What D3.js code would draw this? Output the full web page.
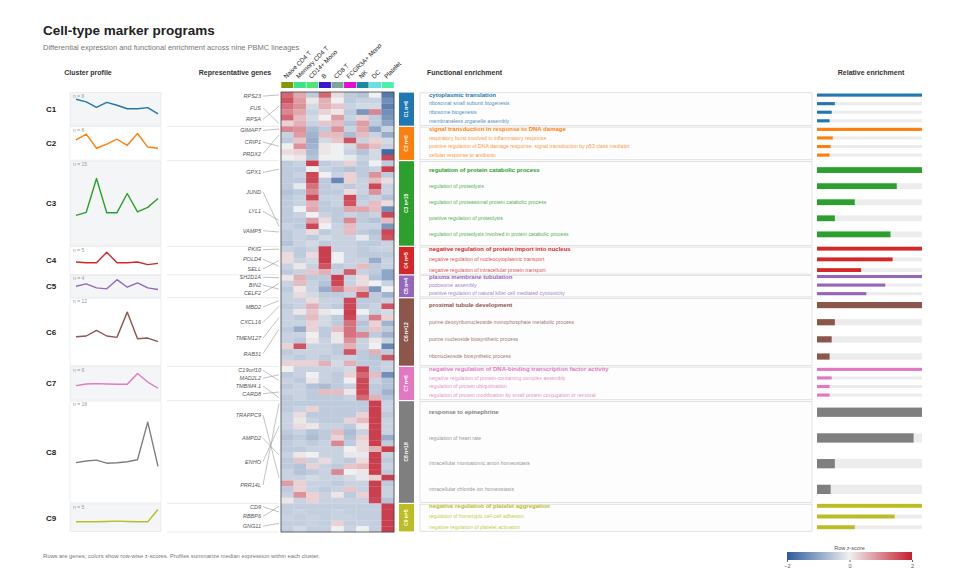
<!DOCTYPE html>
<html>
<head>
<meta charset="utf-8">
<script src="https://cdn.jsdelivr.net/npm/d3@7"></script>
<style>
  body { margin: 0; background: #fff; }
  text { font-family: "Liberation Sans", Arial, sans-serif; }
</style>
</head>
<body>
<div id="chart"></div>
<script>
// ---- data ----
const cellTypes = ["Naive CD4 T", "Memory CD4 T", "CD14+ Mono", "B", "CD8 T", "FCGR3A+ Mono", "NK", "DC", "Platelet"];
const cellColors = ["#7f9a00", "#3ee08a", "#55e07a", "#3a1ad0", "#7aa898", "#e010d0", "#1a88a0", "#66e0e0", "#4ef0a8"];

const clusterNames = ["C1", "C2", "C3", "C4", "C5", "C6", "C7", "C8", "C9"];
const clusterSizes = [6, 6, 15, 5, 4, 12, 6, 18, 5];
const clusterColors = ["#1f77b4", "#ff7f0e", "#2ca02c", "#d62728", "#9467bd", "#8c564b", "#e377c2", "#7f7f7f", "#bcbd22"];

// median profile per cluster (one value per cell type)
const profiles = [
  [0.9, 0.7, 0.29, 0.66, 0.45, 0.19, 0.19, 0.27, -0.2],
  [0.29, 0.68, -0.28, 0.0, 0.33, -0.08, 0.72, -0.2, -0.28],
  [-0.3, -0.13, 1.72, -0.15, -0.15, 0.9, -0.11, 0.14, 0.63],
  [0.01, -0.08, -0.08, 1.2, -0.08, -0.08, 0.01, -0.3, -0.16],
  [0.1, 0.38, -0.1, -0.22, 0.9, -0.02, 0.5, -0.1, -0.3],
  [0.03, 0.08, 0.46, 0.08, -0.01, 1.7, -0.11, -0.06, -0.3],
  [-0.03, 0.13, 0.17, 0.13, 0.1, 0.1, 1.2, 0.33, -0.3],
  [-0.11, -0.03, 0.01, -0.14, -0.12, -0.07, 0.03, 1.9, -0.3],
  [-0.1, -0.1, -0.1, -0.08, -0.05, -0.08, -0.1, -0.1, 1.0]
];

// representative genes and the row (within the cluster) each one points to
const markerGenes = [
  ["RPS23", "FUS", "RPSA"],
  ["GIMAP7", "CRIP1", "PRDX2"],
  ["GPX1", "JUND", "LYL1", "VAMP5"],
  ["PKIG", "POLD4", "SELL"],
  ["SH2D1A", "BIN2", "CELF2"],
  ["MBD2", "CXCL16", "TMEM127", "RAB31"],
  ["C19orf10", "MAD2L2", "TMBIM4.1", "CARD8"],
  ["TRAPPC9", "AMPD2", "ENHO", "PRR14L"],
  ["CD9", "RBBP6", "GNG11"]
];
const markerRows = [
  [0, 5, 2], [0, 3, 1], [1, 11, 10, 12], [0, 3, 2], [0, 2, 1],
  [0, 1, 3, 5], [2, 1, 5, 4], [13, 9, 4, 0], [1, 0, 3]
];

const enrichTerms = [
  ["cytoplasmic translation", "ribosomal small subunit biogenesis", "ribosome biogenesis", "membraneless organelle assembly"],
  ["signal transduction in response to DNA damage", "respiratory burst involved in inflammatory response", "positive regulation of DNA damage response, signal transduction by p53 class mediator", "cellular response to antibiotic"],
  ["regulation of protein catabolic process", "regulation of proteolysis", "regulation of proteasomal protein catabolic process", "positive regulation of proteolysis", "regulation of proteolysis involved in protein catabolic process"],
  ["negative regulation of protein import into nucleus", "negative regulation of nucleocytoplasmic transport", "negative regulation of intracellular protein transport"],
  ["plasma membrane tubulation", "podosome assembly", "positive regulation of natural killer cell mediated cytotoxicity"],
  ["proximal tubule development", "purine deoxyribonucleoside monophosphate metabolic process", "purine nucleoside biosynthetic process", "ribonucleoside biosynthetic process"],
  ["negative regulation of DNA-binding transcription factor activity", "negative regulation of protein-containing complex assembly", "regulation of protein ubiquitination", "regulation of protein modification by small protein conjugation or removal"],
  ["response to epinephrine", "regulation of heart rate", "intracellular monoatomic anion homeostasis", "intracellular chloride ion homeostasis"],
  ["negative regulation of platelet aggregation", "regulation of homotypic cell-cell adhesion", "negative regulation of platelet activation"]
];
const enrichScores = [
  [1, 0.17, 0.14, 0.12],
  [1, 0.15, 0.13, 0.12],
  [1, 0.76, 0.36, 0.17, 0.7],
  [1, 0.72, 0.42],
  [1, 0.65, 0.47],
  [1, 0.17, 0.14, 0.12],
  [1, 0.14, 0.12, 0.12],
  [1, 0.92, 0.17, 0.13],
  [1, 0.74, 0.36]
];

// row-wise z-scores, 77 genes x 9 cell types
const zscores = [
  [1.3, 0.7, -0.5, 1.3, 0.2, -0.5, -0.6, 0.0, -1.6],
  [1.5, 0.8, 0.1, 0.6, 0.0, -0.5, -0.4, -0.4, -1.3],
  [1.2, 0.9, -0.3, 0.6, 0.4, -0.4, -0.3, -0.3, -1.5],
  [1.0, 0.7, -0.4, 0.3, 0.1, -0.5, -1.2, 1.0, -1.3],
  [1.3, 0.5, -0.3, 0.0, 0.8, -0.4, 0.3, -0.5, -1.2],
  [0.3, 0.6, -0.4, 0.4, 0.5, -0.6, 0.8, -0.5, -1.0],
  [1.0, 0.9, -0.7, -0.5, 0.9, -0.4, 0.7, -1.0, -0.4],
  [-0.4, 0.8, -0.8, 0.5, 0.5, -0.7, 0.5, -0.4, -0.9],
  [-0.5, 0.4, -0.9, -0.3, 0.4, 1.5, -0.4, 0.3, -0.3],
  [0.0, 0.9, -0.8, 0.1, 0.0, -0.3, 0.8, 0.5, -0.4],
  [0.2, 0.3, -0.7, 0.1, 0.0, -0.4, -0.6, -0.3, -1.8],
  [0.0, 0.1, -0.6, 0.0, 0.0, -0.1, -0.4, -0.3, 1.6],
  [-0.5, -0.4, 1.7, -0.5, -0.4, 0.3, -0.5, 0.0, -0.5],
  [-0.5, -0.5, 0.0, -0.4, -0.5, -0.6, -0.5, -0.4, 1.7],
  [-0.5, -0.4, 1.6, 0.0, -0.4, 0.3, -0.5, 0.9, -0.5],
  [-0.5, -0.5, 1.6, -0.5, -1.4, 0.3, -0.4, 0.5, 0.2],
  [-0.5, -0.1, 1.2, -0.5, -0.4, -0.5, -0.4, 1.6, -0.4],
  [-0.6, -0.5, 1.0, -0.5, -0.5, 0.2, -0.4, 0.9, -0.4],
  [-0.5, -0.4, 1.6, -0.4, -0.4, 1.6, -0.5, -0.4, -0.6],
  [-0.5, -0.4, 0.6, -0.5, -0.4, 1.5, -0.4, 0.5, 0.2],
  [-0.5, 0.0, 0.7, -0.5, -0.5, 0.7, 0.7, 0.5, -1.3],
  [-0.5, -0.4, 0.0, -0.4, -0.5, -0.4, -0.5, -0.4, 1.6],
  [-0.5, -0.5, 0.8, 0.2, -0.5, 1.0, -0.5, -0.6, 0.5],
  [-0.4, -0.5, 1.6, 0.0, -0.4, 0.5, -0.4, -0.4, -1.2],
  [-0.5, -0.4, 0.2, -0.5, -0.4, 0.5, -0.5, -0.6, 1.6],
  [-0.5, -0.4, -0.5, -0.3, -0.4, -0.4, -0.1, -0.5, 1.5],
  [-0.6, -0.4, -0.3, -0.5, -0.4, -0.4, -0.5, -0.5, -0.4],
  [-0.4, -0.5, -0.4, 1.7, -0.4, -0.4, -0.5, -0.4, -0.4],
  [0.2, -0.5, 0.2, 1.7, 0.0, -0.4, -0.5, -0.5, -0.5],
  [0.2, -0.4, -0.3, 1.7, 0.0, -0.4, -0.4, -0.9, -0.4],
  [-0.4, 0.1, -0.4, 1.5, -0.5, -0.4, 0.5, -0.5, -0.4],
  [-0.5, -0.4, 0.4, 0.6, -0.4, 1.4, -0.4, -0.5, -1.0],
  [0.1, 0.6, -0.5, -0.5, 1.7, -0.4, 0.2, -0.6, -1.0],
  [-0.4, 0.5, -0.4, -0.6, 1.6, -0.4, 0.2, 0.0, -0.4],
  [-0.5, 0.1, -0.4, -0.9, 1.1, 0.5, 0.6, -1.2, 0.0],
  [-0.4, 0.2, -0.3, -0.5, -0.5, -0.4, 1.5, -0.5, -0.8],
  [-0.4, -0.4, 0.2, -0.4, -0.4, 1.6, -0.5, -0.5, -0.4],
  [-0.5, -0.4, 0.6, -0.4, -0.5, 1.6, -0.5, -0.4, 1.5],
  [-0.4, 0.1, 0.4, 0.1, 0.0, 1.7, 0.0, -0.4, -0.3],
  [-0.4, -0.5, 0.5, -0.3, -0.5, 1.6, -0.4, 1.1, 0.3],
  [-0.4, -0.4, 0.3, -0.3, -0.5, 1.2, -0.6, 0.3, -0.8],
  [-0.5, -0.9, 0.3, -0.5, 0.5, 1.2, -0.5, 0.4, -0.5],
  [-0.4, -0.4, 0.0, -0.5, 0.1, 1.2, 1.0, -0.5, -0.8],
  [-0.4, -0.5, 0.1, -0.4, 0.1, 0.9, -0.4, 0.1, -0.4],
  [0.3, 1.5, -0.4, -0.4, -0.5, 0.6, -0.4, 0.0, -1.4],
  [-0.5, -0.4, -0.4, -0.4, -0.5, 1.5, -0.5, 0.6, -0.5],
  [-0.4, -0.5, -0.4, -0.5, -0.4, -0.4, -0.5, -0.6, 1.5],
  [0.3, 0.3, 0.3, 0.6, -0.3, 0.6, -0.5, -0.5, -0.4],
  [0.0, -0.4, -0.4, -0.4, -0.4, -0.3, 1.6, -0.5, -0.4],
  [-0.5, -0.4, 0.0, -0.4, -0.5, 0.3, 1.3, 0.5, -1.3],
  [-0.4, -0.5, 0.1, -0.4, -0.5, 0.0, 1.6, -0.4, -0.6],
  [-0.5, -0.4, -0.6, -0.7, -0.5, -0.4, 1.6, -0.5, -0.6],
  [-0.4, -0.4, -0.5, 0.5, 0.5, 0.1, 1.6, -0.5, -0.8],
  [-0.5, -0.4, -0.5, -0.5, -0.5, -0.4, 1.3, 0.6, -0.6],
  [-0.5, -0.5, -0.5, -0.5, -0.5, -0.5, -0.5, 1.7, -0.4],
  [-0.5, -0.4, 0.3, -0.5, -0.5, -0.5, -0.5, 1.7, -0.4],
  [-0.4, 0.2, -0.5, -0.5, -0.5, -0.5, 0.3, 1.7, -0.5],
  [-0.4, 0.1, -0.4, -0.5, -0.5, 0.3, 0.5, 1.7, -0.4],
  [-0.4, 0.2, 0.1, -0.4, -0.4, -0.5, 0.1, 1.7, -0.4],
  [-0.5, -0.4, -0.6, -0.5, 0.5, -0.7, -0.4, 1.7, -0.4],
  [-0.6, -0.5, -0.7, -0.5, 0.3, -0.6, 0.3, 1.7, -0.9],
  [-0.5, -0.4, -0.5, -0.4, 1.0, -0.5, 0.2, 1.7, -0.5],
  [-0.5, -0.5, -0.4, -0.4, -0.4, 0.0, 0.2, 0.6, 1.7],
  [-0.4, 0.1, 0.0, -0.4, -0.4, 0.1, -0.1, 1.7, -0.4],
  [-0.5, 0.4, -0.4, 0.2, -0.4, -0.5, 0.2, 1.7, -0.5],
  [-0.5, -0.6, 0.3, -0.4, -0.5, 0.4, 0.5, 1.7, -0.4],
  [-0.4, -0.6, -0.5, -0.4, 1.0, 0.0, 0.1, 1.7, -0.5],
  [-0.4, -0.4, -0.3, -0.4, -0.4, -0.3, -0.1, 0.3, 1.7],
  [0.8, 0.3, -0.4, -0.4, -0.5, -0.4, -0.4, 1.7, -0.5],
  [-0.5, 0.3, -0.4, -0.5, -0.4, 0.4, -0.4, 1.7, -0.4],
  [-0.4, 0.9, 0.3, -0.4, 0.1, -0.5, 0.3, 1.7, -0.4],
  [0.1, -0.4, 0.3, -0.4, -0.4, -0.4, -0.4, 1.6, -0.6],
  [-0.45, -0.45, -0.45, -0.45, -0.45, -0.45, -0.45, -0.45, 1.7],
  [-0.45, -0.4, -0.45, -0.45, -0.4, -0.45, -0.45, -0.45, 1.7],
  [-0.4, -0.45, -0.4, -0.45, -0.4, -0.4, -0.45, -0.45, 1.7],
  [-0.45, -0.45, -0.4, -0.45, 0.3, -0.45, -0.4, -0.45, 1.7],
  [-0.45, -0.3, -0.45, -0.45, 0.0, -0.4, 0.0, -0.45, 1.7]
];

// ---- layout ----
const width = 960, height = 576;
const svg = d3.select("#chart").append("svg")
  .attr("width", width).attr("height", height);

const nRows = zscores.length;
const starts = clusterSizes.map((s, i) => d3.sum(clusterSizes.slice(0, i)));

const y = d3.scaleBand().domain(d3.range(nRows)).range([92, 532]);
const x = d3.scaleBand().domain(cellTypes).range([281, 394]);
const color = d3.scaleLinear().domain([-2, 0, 2])
  .range(["#2c5b9c", "#eff0f1", "#c41e30"]).clamp(true);
const xProf = d3.scalePoint().domain(cellTypes).range([76, 158]);
const xRel = d3.scaleLinear().domain([0, 1]).range([817, 922]);

const bands = clusterNames.map((name, i) => {
  const y0 = y(starts[i]);
  const y1 = y(starts[i] + clusterSizes[i] - 1) + y.bandwidth();
  return {name, i, y0, y1, h: y1 - y0};
});

// title
svg.append("text").attr("x", 43).attr("y", 35)
  .style("font-size", "13.5px").style("font-weight", "bold").attr("fill", "#222")
  .text("Cell-type marker programs");
svg.append("text").attr("x", 43).attr("y", 50)
  .style("font-size", "7.5px").attr("fill", "#777")
  .text("Differential expression and functional enrichment across nine PBMC lineages");

// column headers
const headers = [
  {t: "Cluster profile", x: 88, a: "middle"},
  {t: "Representative genes", x: 235, a: "middle"},
  {t: "Functional enrichment", x: 427, a: "start"},
  {t: "Relative enrichment", x: 871, a: "middle"}
];
svg.selectAll("text.hdr").data(headers).enter().append("text")
  .attr("class", "hdr").attr("x", d => d.x).attr("y", 75)
  .attr("text-anchor", d => d.a)
  .style("font-size", "7px").style("font-weight", "bold").attr("fill", "#333")
  .text(d => d.t);

// cell type colour strip + rotated labels
svg.append("g").selectAll("rect").data(cellTypes).enter().append("rect")
  .attr("x", d => x(d) + 0.3).attr("y", 82)
  .attr("width", x.bandwidth() - 0.6).attr("height", 6)
  .attr("fill", (d, i) => cellColors[i]);
svg.append("g").selectAll("text").data(cellTypes).enter().append("text")
  .attr("transform", d => `translate(${x(d) + x.bandwidth() / 2 - 1},79) rotate(-45)`)
  .style("font-size", "6.3px").attr("fill", "#222")
  .text(d => d);

// cluster profile panels
const prof = svg.append("g");
bands.forEach(b => {
  prof.append("rect").attr("x", 70).attr("y", b.y0 + 0.5)
    .attr("width", 91).attr("height", b.h - 1)
    .attr("fill", b.i % 2 === 0 ? "#f3f5f7" : "#ffffff")
    .attr("stroke", "#e2e4e6").attr("stroke-width", 0.6);
  prof.append("text").attr("x", 51).attr("y", (b.y0 + b.y1) / 2).attr("dy", "0.35em")
    .attr("text-anchor", "middle")
    .style("font-size", "8px").style("font-weight", "bold").attr("fill", "#222")
    .text(b.name);
  prof.append("text").attr("x", 73).attr("y", b.y0 + 5.5)
    .style("font-size", "5px").attr("fill", "#999")
    .text("n = " + clusterSizes[b.i]);
  const vals = profiles[b.i];
  const yp = d3.scaleLinear().domain(d3.extent(vals))
    .range([b.y0 + 0.64 * b.h, b.y0 + 0.21 * b.h]);
  const line = d3.line().x((d, j) => xProf(cellTypes[j])).y(d => yp(d));
  prof.append("path").attr("d", line(vals))
    .attr("fill", "none").attr("stroke", clusterColors[b.i]).attr("stroke-width", 1.4)
    .attr("stroke-linejoin", "round");
});

// representative genes with leader lines
const genes = svg.append("g");
bands.forEach(b => {
  genes.append("line").attr("x1", 167).attr("x2", 279)
    .attr("y1", b.y1).attr("y2", b.y1)
    .attr("stroke", "#dcdcdc").attr("stroke-width", 0.6);
  const names = markerGenes[b.i], n = names.length;
  names.forEach((g, k) => {
    const gy = b.y0 + b.h * (0.15 + 0.68 * k / (n - 1)) - 1;
    const ry = y(starts[b.i] + markerRows[b.i][k]) + y.bandwidth() / 2;
    genes.append("text").attr("x", 261).attr("y", gy).attr("dy", "0.35em")
      .attr("text-anchor", "end")
      .style("font-size", "5.5px").style("font-style", "italic").attr("fill", "#555")
      .text(g);
    genes.append("line").attr("x1", 263).attr("y1", gy).attr("x2", 279).attr("y2", ry)
      .attr("stroke", "#999").attr("stroke-width", 0.6);
  });
});

// heatmap
const cells = zscores.flatMap((row, i) => row.map((v, j) => ({i, j, v})));
svg.append("g").selectAll("rect").data(cells).enter().append("rect")
  .attr("x", d => x(cellTypes[d.j])).attr("y", d => y(d.i))
  .attr("width", x.bandwidth() + 0.2).attr("height", y.bandwidth() + 0.2)
  .attr("fill", d => color(d.v));
svg.append("rect").attr("x", 281).attr("y", 92).attr("width", 113).attr("height", 440)
  .attr("fill", "none").attr("stroke", "#444").attr("stroke-width", 0.8);

// cluster tags
const tags = svg.append("g");
bands.forEach(b => {
  tags.append("rect").attr("x", 399).attr("y", b.y0 + 0.6)
    .attr("width", 15).attr("height", b.h - 1.2)
    .attr("fill", clusterColors[b.i]);
  tags.append("text")
    .attr("transform", `translate(${406.5},${(b.y0 + b.y1) / 2}) rotate(-90)`)
    .attr("text-anchor", "middle").attr("dy", "0.35em")
    .style("font-size", "5px").style("font-weight", "bold").attr("fill", "#fff")
    .text(`${b.name} n=${clusterSizes[b.i]}`);
});

// functional enrichment + relative bars
const enr = svg.append("g");
bands.forEach(b => {
  enr.append("rect").attr("x", 420).attr("y", b.y0 + 0.8)
    .attr("width", 392).attr("height", b.h - 1.6)
    .attr("fill", "#fdfdfd").attr("stroke", "#d6d6d6").attr("stroke-width", 0.7);
  const terms = enrichTerms[b.i], n = terms.length;
  const step = b.h * 0.75 / (n - 1);
  terms.forEach((t, k) => {
    const ty = b.y0 + b.h * (0.125 + 0.75 * k / (n - 1)) - 1.2;
    enr.append("text").attr("x", 429).attr("y", ty).attr("dy", "0.35em")
      .style("font-size", k === 0 ? "6px" : "5.2px")
      .style("font-weight", k === 0 ? "bold" : "normal")
      .attr("fill", clusterColors[b.i]).attr("fill-opacity", k === 0 ? 1 : 0.85)
      .text(t);
    const bh = Math.max(2.6, step * 0.36);
    enr.append("rect").attr("x", xRel(0)).attr("y", ty - bh / 2)
      .attr("width", xRel(1) - xRel(0)).attr("height", bh).attr("fill", "#ececec");
    enr.append("rect").attr("x", xRel(0)).attr("y", ty - bh / 2)
      .attr("width", xRel(enrichScores[b.i][k]) - xRel(0)).attr("height", bh)
      .attr("fill", clusterColors[b.i]);
  });
});

// footer note
svg.append("text").attr("x", 43).attr("y", 558)
  .style("font-size", "5.8px").attr("fill", "#777")
  .text("Rows are genes; colors show row-wise z-scores. Profiles summarize median expression within each cluster.");

// colour legend
const defs = svg.append("defs");
const grad = defs.append("linearGradient").attr("id", "zgrad");
d3.range(0, 1.0001, 0.1).forEach(t => {
  grad.append("stop").attr("offset", t).attr("stop-color", color(-2 + 4 * t));
});
const xLeg = d3.scaleLinear().domain([-2, 2]).range([787, 912]);
svg.append("text").attr("x", (xLeg(-2) + xLeg(2)) / 2).attr("y", 549.5)
  .attr("text-anchor", "middle").style("font-size", "5.5px").attr("fill", "#555")
  .text("Row z-score");
svg.append("rect").attr("x", xLeg(-2)).attr("y", 552).attr("width", xLeg(2) - xLeg(-2))
  .attr("height", 8).attr("fill", "url(#zgrad)");
const legAxis = svg.append("g").attr("transform", "translate(0,560)")
  .call(d3.axisBottom(xLeg).tickValues([-2, 0, 2]).tickSize(2).tickFormat(d3.format("d")));
legAxis.select(".domain").remove();
legAxis.selectAll("line").attr("stroke", "#666");
legAxis.selectAll("text").style("font-size", "5.5px").attr("fill", "#555").attr("dy", "0.6em");
</script>
</body>
</html>
